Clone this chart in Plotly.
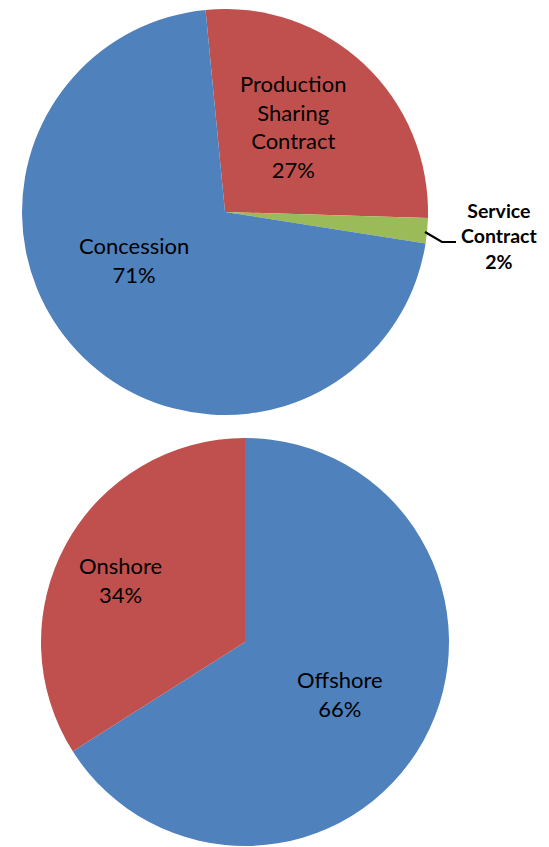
import plotly.graph_objects as go

W, H = 549, 847
OFF = 8  # page body margin in the browser

# Data
contract_labels = ["Production<br>Sharing<br>Contract", "Service<br>Contract", "Concession"]
contract_values = [27, 2, 71]
location_labels = ["Offshore", "Onshore"]
location_values = [66, 34]

blue = "#4F81BD"
red = "#C0504D"
green = "#9BBB59"


def px(x):
    return (x - OFF) / W


def py(y):
    return 1 - (y - OFF) / H


fig = go.Figure()

fig.add_trace(go.Pie(
    labels=contract_labels, values=contract_values,
    marker=dict(colors=[red, green, blue], line=dict(width=0)),
    sort=False, direction="clockwise", rotation=-5.5,
    textinfo="none", hoverinfo="label+percent", showlegend=False,
    domain=dict(x=[px(22), px(428)], y=[py(415), py(9)]),
))

fig.add_trace(go.Pie(
    labels=location_labels, values=location_values,
    marker=dict(colors=[blue, red], line=dict(width=0)),
    sort=False, direction="clockwise", rotation=0,
    textinfo="none", hoverinfo="label+percent", showlegend=False,
    domain=dict(x=[px(41), px(449)], y=[py(846), py(438)]),
))


def pct(vals, i):
    return f"{round(100 * vals[i] / sum(vals))}%"


font = dict(family="Lato, 'Open Sans', sans-serif", size=22, color="#000000")
bold_font = dict(family="Lato, 'Open Sans', sans-serif", size=19.5, color="#000000")

label_pos = [
    (contract_labels, contract_values, 0, 293, 126, font),
    (contract_labels, contract_values, 1, 499, 236, bold_font),
    (contract_labels, contract_values, 2, 134, 260, font),
    (location_labels, location_values, 0, 340, 694, font),
    (location_labels, location_values, 1, 120, 580, font),
]

for labs, vals, i, x, y, f in label_pos:
    text = f"{labs[i]}<br>{pct(vals, i)}"
    if f is bold_font:
        text = "<b>" + text.replace("<br>", "</b><br><b>") + "</b>"
    fig.add_annotation(
        x=px(x), y=py(y), xref="paper", yref="paper",
        text=text, showarrow=False, font=f,
        xanchor="center", yanchor="middle", align="center",
    )

# Leader line for the small slice label
fig.add_shape(
    type="path", xref="paper", yref="paper",
    path=f"M {px(425)} {py(232)} L {px(442)} {py(242)} L {px(456)} {py(242)}",
    line=dict(color="black", width=2.2),
)

fig.update_layout(
    width=W, height=H,
    margin=dict(l=0, r=0, t=0, b=0),
    paper_bgcolor="white", plot_bgcolor="white",
)

fig.write_html("out.html")
